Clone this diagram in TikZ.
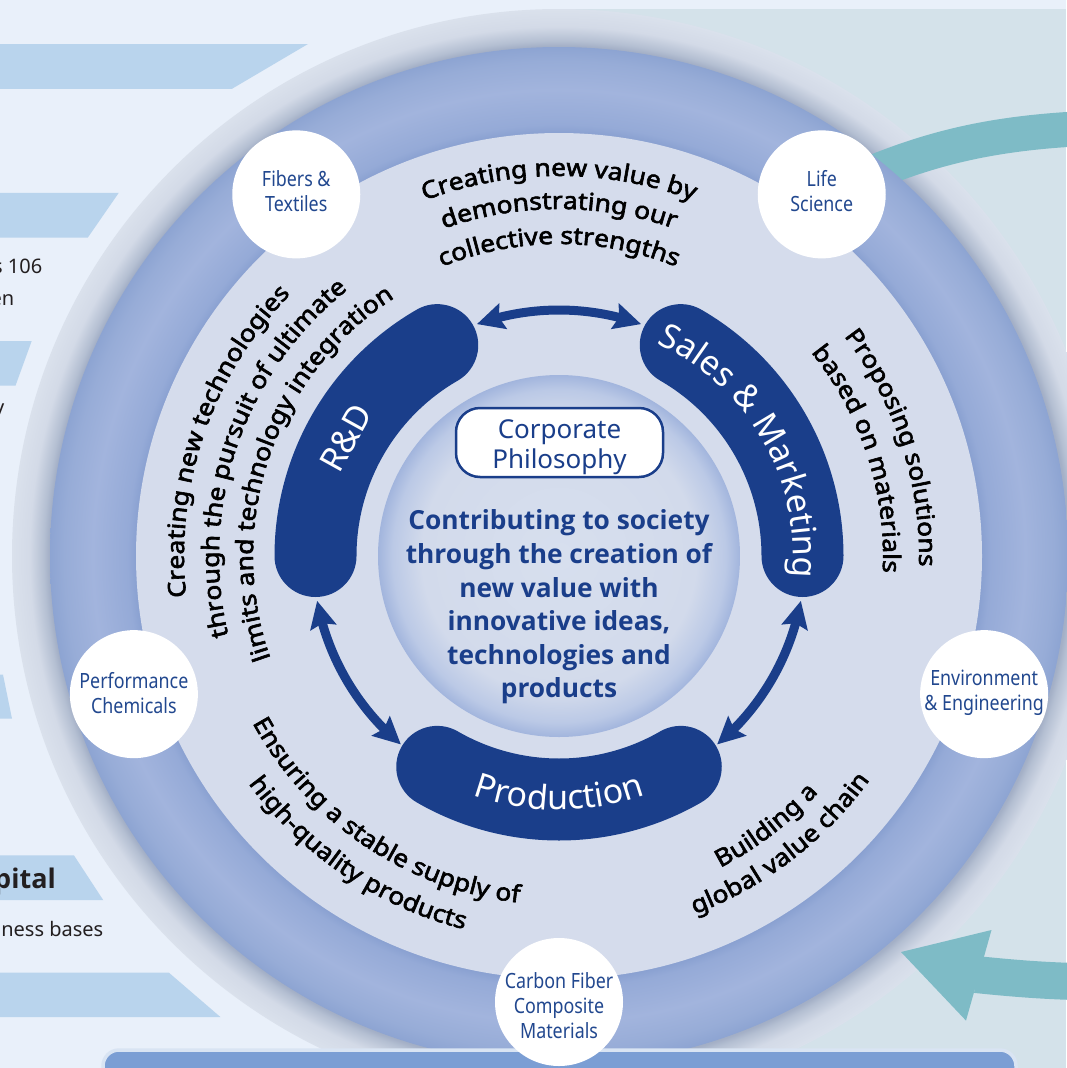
\documentclass[tikz,border=0pt]{standalone}
\usepackage{fontspec}
\setmainfont{Noto Sans}
\newfontfamily\condfont[FakeStretch=0.85]{Noto Sans}
\newfontfamily\heavy[FakeBold=2.5,FakeStretch=1.1]{Noto Sans}
\newfontfamily\osans{Open Sans}
\usetikzlibrary{arrows.meta,bending,decorations.text,calc}
\definecolor{leftbg}{HTML}{E9F0FA}
\definecolor{rightbg}{HTML}{D4E2EA}
\definecolor{barblue}{HTML}{B9D4ED}
\definecolor{halo1}{HTML}{A3AFC6}
\definecolor{halo2}{HTML}{B4BFD2}
\definecolor{halo3}{HTML}{D3DAE7}
\definecolor{halo4}{HTML}{DAE1EC}
\definecolor{ring1}{HTML}{8AA1D1}
\definecolor{ring2}{HTML}{95AAD7}
\definecolor{ring3}{HTML}{A2B4DD}
\definecolor{ring4}{HTML}{97ACD7}
\definecolor{ring5}{HTML}{8DA4D2}
\definecolor{lightring}{HTML}{D5DCEC}
\definecolor{core1}{HTML}{D7DFEE}
\definecolor{core2}{HTML}{D2DAEB}
\definecolor{core3}{HTML}{BBC9E6}
\definecolor{core4}{HTML}{A2B5DD}
\definecolor{navy}{HTML}{1A3E8A}
\definecolor{labelblue}{HTML}{22488F}
\definecolor{tealc}{HTML}{7EBBC6}
\definecolor{rectblue}{HTML}{7B9ED4}
\definecolor{rectedge}{HTML}{D9E4F3}
\definecolor{ink}{HTML}{231F20}
\pgfdeclareradialshading{haloshade}{\pgfpoint{0bp}{0bp}}{color(0bp)=(halo1); color(23.3bp)=(halo1); color(23.55bp)=(halo2); color(24.2bp)=(halo3); color(25bp)=(halo4); color(50bp)=(halo4)}
\pgfdeclareradialshading{ringshade}{\pgfpoint{0bp}{0bp}}{color(0bp)=(ring1); color(20.78bp)=(ring1); color(21.2bp)=(ring2); color(22.9bp)=(ring3); color(24.3bp)=(ring4); color(25bp)=(ring5); color(50bp)=(ring5)}
\pgfdeclareradialshading{coreshade}{\pgfpoint{0bp}{0bp}}{color(0bp)=(core1); color(19bp)=(core2); color(23bp)=(core3); color(25bp)=(core4); color(50bp)=(core4)}
\newcommand\curvefont{\heavy\fontsize{24}{24}\selectfont}
\newcommand\blobfont{\fontsize{34}{34}\selectfont}
% [color]{radius}{start}{end}{format}{text}
\newcommand\arctext[6][black]{%
  \path[decorate, decoration={text along path, text align=center, text color=#1,
    text={|#5|#6}}] (C) ++(#3:#2) arc[start angle=#3, end angle=#4, radius=#2];}
\begin{document}
\begin{tikzpicture}[x=1pt,y=1pt,
  blob/.style={draw=navy, line width=82pt, line cap=round},
  dblarrow/.style={draw=navy, line width=9pt,
    {Stealth[length=27pt,width=26pt,inset=4pt]}-{Stealth[length=27pt,width=26pt,inset=4pt]}},
  wcircle/.style={circle, fill=white, minimum size=128pt, inner sep=0pt},
  clabel/.style={align=center, text=labelblue, font=\condfont\fontsize{21}{25}\selectfont, inner sep=0pt},
  sidetext/.style={text=ink, font=\fontsize{20}{24}\selectfont, inner sep=0pt},
  tealband/.style={draw=tealc}]
\useasboundingbox (0,0) rectangle (1066,-1068);
\coordinate (C) at (559,-556);
% backgrounds
\fill[leftbg] (0,0) rectangle (1066,-1068);
\fill[rightbg] (559,-8.5) rectangle (1066,-1068);
% left bars
\fill[barblue] (0,-44) -- (308,-44) -- (232,-88.8) -- (0,-88.8) -- cycle;
\fill[barblue] (0,-192.8) -- (118.8,-192.8) -- (87.8,-237.6) -- (0,-237.6) -- cycle;
\fill[barblue] (0,-341) -- (31.7,-341) -- (15.5,-385.7) -- (0,-385.7) -- cycle;
\fill[barblue] (0,-674.6) -- (3,-674.6) -- (12,-718.7) -- (0,-718.7) -- cycle;
\fill[barblue] (0,-855.4) -- (74,-855.4) -- (103.3,-900.2) -- (0,-900.2) -- cycle;
\fill[barblue] (0,-972.5) -- (168.7,-972.5) -- (220.4,-1017) -- (0,-1017) -- cycle;
\node[sidetext, anchor=base east] (s106) at (42.5,-273) {s 106};
\node[sidetext, anchor=base east] (sen) at (14.5,-305) {en};
\node[sidetext, anchor=base east] (sy) at (4.5,-414) {y};
\node[sidetext, anchor=base east, font=\osans\bfseries\fontsize{27}{30}\selectfont] (spital) at (56,-888) {pital};
\node[sidetext, anchor=base east] (sness) at (103.5,-936) {ness bases};
% halo
\shade[shading=haloshade] (C) circle[radius=547];
% teal arrows on the right
\coordinate (tealA) at (860,-178);
\coordinate (tealB) at (1075,-129);
\draw[tealband, line width=35pt] (tealA) .. controls (930,-148) and (990,-134) .. (tealB);
\coordinate (tealC) at (1075,-981.5);
\coordinate (tealD) at (976,-974.5);
\draw[tealband, line width=37pt] (tealC) .. controls (1040,-980.5) and (1010,-978) .. (tealD);
\fill[tealc] (991.5,-930) -- (901,-952) -- (966,-1020.6) -- cycle;
% rings
\shade[shading=ringshade] (C) circle[radius=509];
\fill[lightring] (C) circle[radius=423];
\shade[shading=coreshade] (C) circle[radius=181];
% blobs
\draw[blob] (C) ++(120:243.5) arc[start angle=120, end angle=180, radius=243.5];
\draw[blob] (C) ++(60:243.5) arc[start angle=60, end angle=0, radius=243.5];
\draw[blob] (C) ++(240:243.5) arc[start angle=240, end angle=300, radius=243.5];
% arrows between blobs
\draw[dblarrow] (C) ++(109.5:246) arc[start angle=109.5, end angle=70.5, radius=246];
\draw[dblarrow] (C) ++(190.5:246) arc[start angle=190.5, end angle=230, radius=246];
\draw[dblarrow] (C) ++(-10.5:246) arc[start angle=-10.5, end angle=-50, radius=246];
% blob texts
\path (C) ++(151:244) node[rotate=61, text=white, font=\blobfont] (rd) {R\&D};
\arctext[white]{234}{80}{-20}{\blobfont}{Sales {\&} Marketing}
\arctext[white]{254}{220}{320}{\blobfont}{Production}
% centre
\node[draw=navy, line width=2.5pt, fill=white, rounded corners=24pt, minimum width=207pt,
  minimum height=69pt, inner sep=0pt] (cpbox) at (559.5,-442.5) {};
\node[align=center, text=navy, inner sep=0pt,
  font=\fontsize{26}{30}\selectfont] (cp) at (559.5,-447) {Corporate\\Philosophy};
\node[align=center, text=navy, font=\osans\bfseries\fontsize{26.3}{33.6}\selectfont] (mission)
  at (559,-607) {Contributing to society\\through the creation of\\new value with\\innovative ideas,\\technologies and\\products};
% curved texts
\arctext{380}{150}{30}{\curvefont}{Creating new value by}
\arctext{347}{150}{30}{\curvefont}{demonstrating our}
\arctext{312}{150}{30}{\curvefont}{collective strengths}
\arctext{375}{221}{101}{\curvefont}{Creating new technologies}
\arctext{340}{221}{101}{\curvefont}{through the pursuit of ultimate}
\arctext{306}{221}{101}{\curvefont}{limits and technology integration}
\arctext{360}{78}{-42}{\curvefont}{Proposing solutions}
\arctext{324}{78}{-42}{\curvefont}{based on materials}
\arctext{349}{176}{296}{\curvefont}{Ensuring a stable supply of}
\arctext{385}{176}{296}{\curvefont}{high-quality products}
\arctext{351}{257.5}{357.5}{\curvefont}{Building a}
\arctext{383}{257.5}{357.5}{\curvefont}{global value chain}
% bottom panel
\draw[draw=rectedge, fill=rectblue, line width=3.5pt, rounded corners=16pt] (103,-1050) rectangle (1016,-1110);
% business circles
\node[wcircle] (fib) at ($(C)+(126:447)$) {};
\node[wcircle] (life) at ($(C)+(54:447)$) {};
\node[wcircle] (perf) at ($(C)+(198:447)$) {};
\node[wcircle] (env) at ($(C)+(342:447)$) {};
\node[wcircle] (cfrp) at ($(C)+(270:446)$) {};
\node[clabel] (fibl) at ($(fib)+(0,3.5)$) {Fibers \&\\Textiles};
\node[clabel] (lifel) at ($(life)+(0,3.5)$) {Life\\Science};
\node[clabel] (perfl) at ($(perf)+(0,1.5)$) {Performance\\Chemicals};
\node[clabel] (envl) at ($(env)+(0,1)$) {Environment\\\& Engineering};
\node[clabel] (cfrpl) at ($(cfrp)+(0,-4)$) {Carbon Fiber\\Composite\\Materials};
\end{tikzpicture}
\end{document}
